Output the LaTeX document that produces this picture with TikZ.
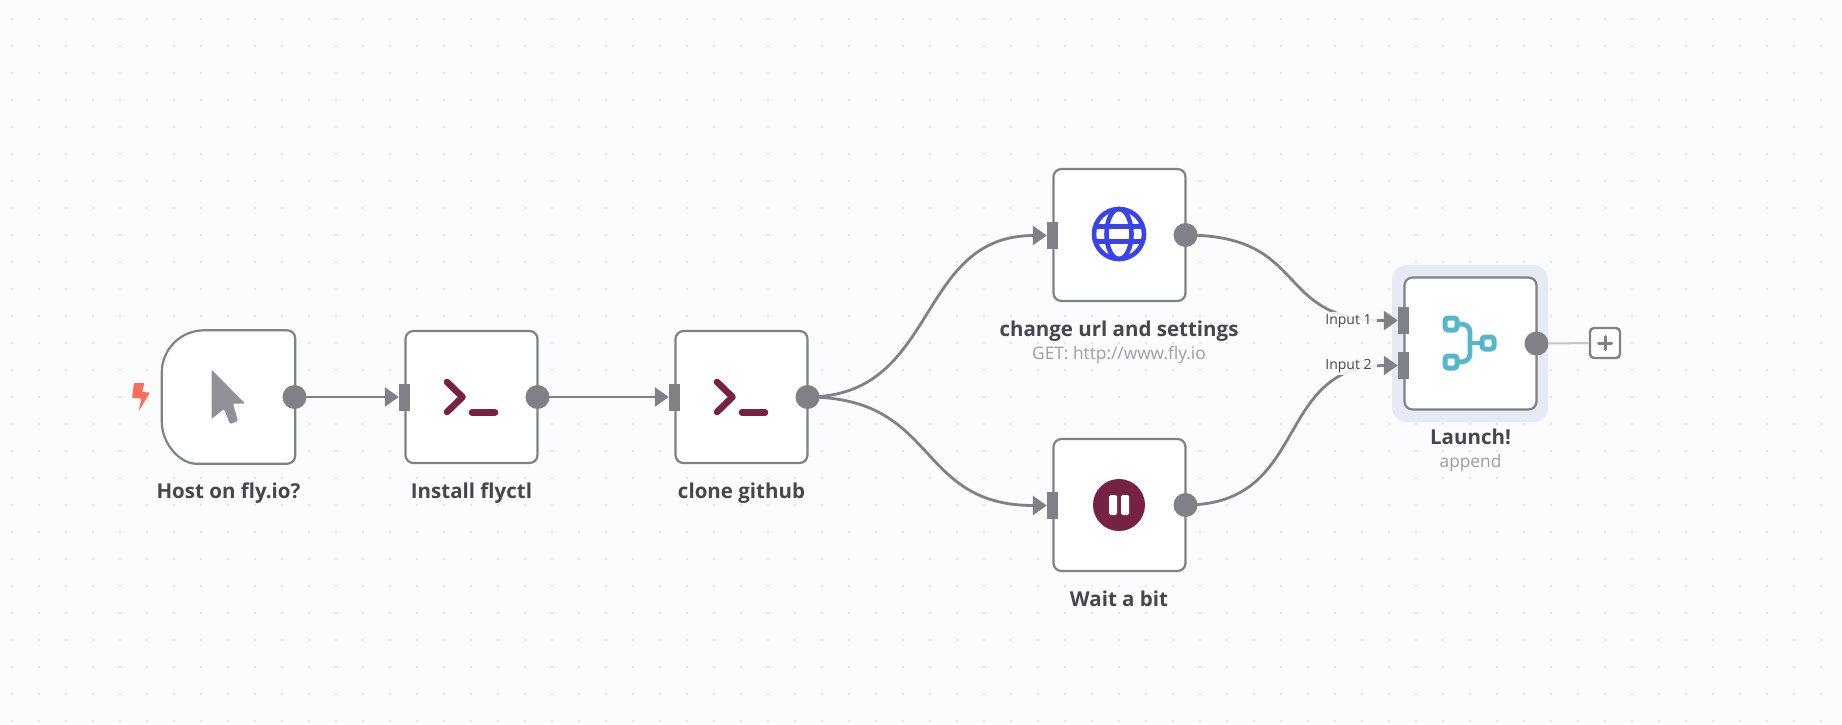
\documentclass[tikz,border=0pt]{standalone}
\usepackage{fontspec}
\setmainfont{Open Sans}
\newfontfamily\semi{Open Sans}
\usetikzlibrary{arrows.meta,calc}
\definecolor{bgc}{HTML}{FBFCFE}
\definecolor{dotc}{HTML}{E0E2EC}
\definecolor{edgec}{HTML}{7F8187}
\definecolor{lightc}{HTML}{C2C6D2}
\definecolor{haloc}{HTML}{E6EAF4}
\definecolor{termc}{HTML}{772244}
\definecolor{globec}{HTML}{3A42E9}
\definecolor{mergec}{HTML}{54B8C9}
\definecolor{cursorc}{HTML}{909298}
\definecolor{boltc}{HTML}{FF6D5A}
\definecolor{labelc}{HTML}{45474E}
\definecolor{subc}{HTML}{9A9CA6}
\tikzset{
  box/.style={draw=edgec,fill=white,line width=2.2pt,rounded corners=8pt,minimum width=132pt,minimum height=132pt,inner sep=0pt},
  outdot/.style={circle,fill=edgec,minimum size=24pt,inner sep=0pt},
  inport/.style={fill=edgec,minimum width=11pt,minimum height=27pt,inner sep=0pt},
  conn/.style={draw=edgec,line width=2.8pt,-{Triangle[length=14pt,width=19pt,color=edgec]}},
  title/.style={font=\semi\bfseries\fontsize{20.5}{24}\selectfont,text=labelc,anchor=base,inner sep=0pt},
  subtitle/.style={font=\fontsize{17.3}{20}\selectfont,text=subc,anchor=base,inner sep=0pt},
  inlabel/.style={font=\fontsize{14}{16}\selectfont,text=labelc,fill=bgc,fill opacity=.88,text opacity=1,inner xsep=5pt,inner ysep=2pt},
  chev/.style={draw=termc,line width=6.6pt,line cap=round,line join=round},
  mergeline/.style={draw=mergec,line width=4.8pt},
}
\begin{document}
\begin{tikzpicture}[x=1pt,y=-1pt]
\fill[bgc] (0,0) rectangle (1842,724);
\useasboundingbox (0,0) rectangle (1842,724);
\foreach \i in {0,...,68}{\foreach \j in {0,...,26}{
  \fill[dotc] ({12+27*\i},{19+27*\j}) circle (1.3pt);
}}
% halo
\fill[haloc,rounded corners=15pt] (1392,265) rectangle (1548,422);
% nodes
\node[inner sep=0pt,minimum width=133pt,minimum height=133pt] (host) at (228.5,397) {};
\draw[draw=edgec,fill=white,line width=2.2pt]
  ($(host.north west)+(42,0)$) [rounded corners=8pt] -- (host.north east) -- (host.south east) -- ($(host.south west)+(42,0)$) [sharp corners]
  .. controls ($(host.south west)+(19,0)$) and ($(host.south west)+(0,-19)$) .. ($(host.south west)+(0,-42)$)
  -- ($(host.north west)+(0,42)$)
  .. controls ($(host.north west)+(0,19)$) and ($(host.north west)+(19,0)$) .. ($(host.north west)+(42,0)$) -- cycle;
\node[box] (inst) at (471.5,397) {};
\node[box] (clone) at (741.5,397) {};
\node[box] (chg) at (1119.5,235) {};
\node[box] (wait) at (1119.5,505) {};
\node[box] (merge) at (1470.5,343.5) {};
% ports
\node[outdot] (o1) at (294.5,397) {};
\node[outdot] (o2) at (537.5,397) {};
\node[outdot] (o3) at (807.5,397) {};
\node[outdot] (o4) at (1185.5,235) {};
\node[outdot] (o5) at (1185.5,505) {};
\node[outdot] (o6) at (1536.5,343.5) {};
\node[inport] (i2) at (404.5,397.5) {};
\node[inport] (i3) at (674.5,397.5) {};
\node[inport] (i4) at (1052.5,235.5) {};
\node[inport] (i5) at (1052.5,505.5) {};
\node[inport] (i6a) at (1403.5,320.5) {};
\node[inport] (i6b) at (1403.5,365.5) {};
% connectors
\draw[conn] (o1.center) -- (o1.center -| i2.west);
\draw[conn] (o2.center) -- (o2.center -| i3.west);
\draw[conn] (o3.center) .. controls +(132,0) and +(-132,0) .. (i4.west);
\draw[conn] (o3.center) .. controls +(132,0) and +(-132,0) .. (i5.west);
\draw[conn] (o4.center) .. controls +(125,0) and +(-125,0) .. (i6a.west);
\draw[conn] (o5.center) .. controls +(125,0) and +(-125,0) .. (i6b.west);
\node[inlabel] (l1) at (1348.5,321) {Input 1};
\node[inlabel] (l2) at (1348.5,366) {Input 2};
% plus
\node[draw=edgec,fill=white,line width=2.4pt,rounded corners=4pt,minimum size=30pt,inner sep=0pt] (plus) at (1605,343) {};
\draw[lightc,line width=2pt] (o6.east) -- (plus.west);
\draw[edgec,line width=3pt,line cap=round] (1598.5,343) -- (1611.5,343) (1605,336.5) -- (1605,349.5);
% bolt
\fill[boltc,rounded corners=1pt] (134,383) -- (144.5,383) -- (142,392) -- (150,392.5) -- (138.5,411.5) -- (141.5,398.5) -- (132,398) -- cycle;
% cursor
\fill[cursorc,rounded corners=1.2pt] (211.5,369.5) -- (245,403.5) -- (233,403.5) -- (238,421) -- (230,424) -- (224,409) -- (211.5,419) -- cycle;
% terminal icons
\draw[chev] (447,382) -- (462.5,397) -- (447,412);
\draw[chev] (472,412.5) -- (495,412.5);
\draw[chev] (717,382) -- (732.5,397) -- (717,412);
\draw[chev] (742,412.5) -- (765,412.5);
% globe
\begin{scope}[globec,line width=4.6pt]
\draw (1119,234) circle (25pt);
\draw (1119,234) ellipse (12.5pt and 25pt);
\draw (1096.5,226.5) -- (1141.5,226.5) (1096.5,241.5) -- (1141.5,241.5);
\end{scope}
% pause
\fill[termc] (1119,505) circle (26pt);
\fill[white,rounded corners=1.5pt] (1109,495) rectangle (1117,515);
\fill[white,rounded corners=1.5pt] (1121,495) rectangle (1129,515);
% merge icon
\draw[mergeline] (1459,324) .. controls (1466,324) and (1470,326) .. (1470,333) -- (1470,353) .. controls (1470,360) and (1466,362) .. (1459,362);
\draw[mergeline] (1470,343) -- (1480,343);
\draw[draw=mergec,line width=5pt,fill=white,rounded corners=3pt] (1445,318) rectangle (1457,330);
\draw[draw=mergec,line width=5pt,fill=white,rounded corners=3pt] (1445,356) rectangle (1457,368);
\draw[draw=mergec,line width=5pt,fill=white,rounded corners=3pt] (1482,337) rectangle (1494,349);
% labels
\node[title] (t1) at (228.5,498) {Host on fly.io?};
\node[title] (t2) at (471.5,498) {Install flyctl};
\node[title] (t3) at (741.5,498) {clone github};
\node[title] (t4) at (1119,336) {change url and settings};
\node[subtitle] (s4) at (1119,359) {GET: http://www.fly.io};
\node[title] (t5) at (1119,606) {Wait a bit};
\node[title] (t6) at (1470.5,444) {Launch!};
\node[subtitle] (s6) at (1470.5,467) {append};
\end{tikzpicture}
\end{document}
